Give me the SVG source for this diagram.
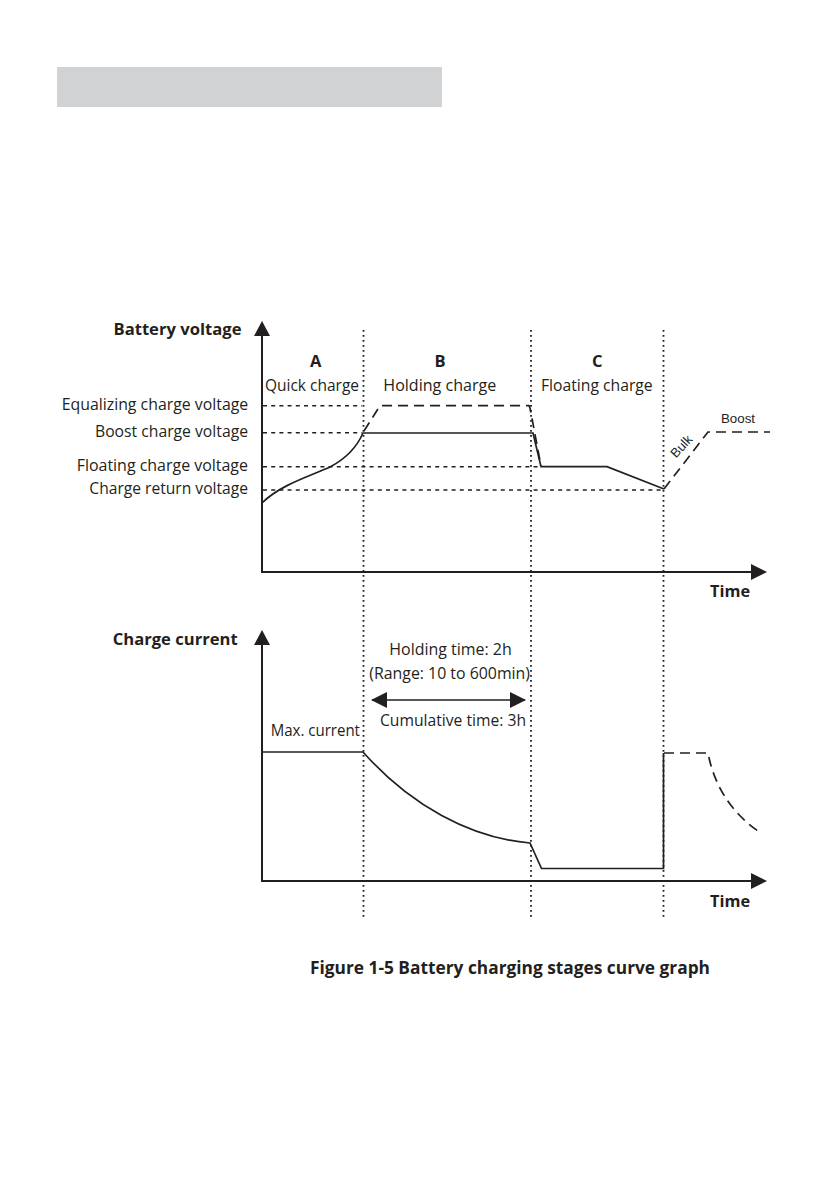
<svg xmlns="http://www.w3.org/2000/svg" width="840" height="1192" viewBox="0 0 840 1192">
<style>
.t{font-family:"Open Sans","Noto Sans","Liberation Sans",sans-serif;fill:#231f20;font-size:16px}
.b{font-family:"Open Sans","Noto Sans","Liberation Sans",sans-serif;fill:#231f20;font-weight:bold;font-size:16.5px}
.s{font-family:"Liberation Sans",Arial,sans-serif;fill:#231f20;font-size:13px}
.ax{stroke:#231f20;stroke-width:2;fill:none}
.cv{stroke:#231f20;stroke-width:1.7;fill:none}
.dash{stroke:#231f20;stroke-width:1.7;fill:none;stroke-dasharray:10 6}
.ref{stroke:#231f20;stroke-width:1.5;fill:none;stroke-dasharray:4 4.2}
.dot{stroke:#231f20;stroke-width:1.8;fill:none;stroke-dasharray:1.8 3.2}
.ah{fill:#231f20}
</style>
<defs>
<marker id="arr" viewBox="0 0 16 16" refX="15" refY="8" markerWidth="16" markerHeight="16" markerUnits="userSpaceOnUse" orient="auto-start-reverse">
<path d="M0,0 L16,8 L0,16 Z" fill="#231f20"/>
</marker>
</defs>

<rect id="header-bar" x="57" y="67" width="385" height="40" fill="#d1d2d4"/>

<g id="grid">
<line class="dot" x1="363.5" y1="330" x2="363.5" y2="918"/>
<line class="dot" x1="531" y1="330" x2="531" y2="918"/>
<line class="dot" x1="663.5" y1="330" x2="663.5" y2="918"/>
</g>

<g id="voltage-chart">
<g id="voltage-axes">
<polyline class="ax" points="262,330 262,572 758,572"/>
<path class="ah" d="M262,321 L270,336 L254,336 Z"/>
<path class="ah" d="M767,572 L751,564 L751,580 Z"/>
</g>
<g id="voltage-levels">
<line class="ref" x1="263" y1="405.7" x2="362" y2="405.7"/>
<line class="ref" x1="263" y1="432.7" x2="362" y2="432.7"/>
<line class="ref" x1="263" y1="466.7" x2="540" y2="466.7"/>
<line class="ref" x1="263" y1="490" x2="663" y2="490"/>
</g>
<g id="voltage-curves">
<path class="cv" d="M262,503 C280,485 310,476 330,467 C345,459 357,447 363,433 L533,433 L541,466.7 L607,466.7 L664,489"/>
<path class="dash" d="M364,431 L380,405.7 L529,405.7 L530,408 L541,466"/>
<path class="dash" d="M664,489 L708,432 L770,432"/>
</g>
</g>

<g id="voltage-labels">
<text class="b" x="241.5" y="335" text-anchor="end" textLength="128" lengthAdjust="spacingAndGlyphs">Battery voltage</text>
<text class="b" x="315.7" y="367.3" text-anchor="middle">A</text>
<text class="t" x="265" y="391" textLength="94" lengthAdjust="spacingAndGlyphs">Quick charge</text>
<text class="b" x="440" y="367.3" text-anchor="middle">B</text>
<text class="t" x="383.3" y="391" textLength="113" lengthAdjust="spacingAndGlyphs">Holding charge</text>
<text class="b" x="597.3" y="367.3" text-anchor="middle">C</text>
<text class="t" x="541" y="391" textLength="111.7" lengthAdjust="spacingAndGlyphs">Floating charge</text>
<text class="t" x="61.7" y="410" textLength="186.5" lengthAdjust="spacingAndGlyphs">Equalizing charge voltage</text>
<text class="t" x="95" y="437.3" textLength="153" lengthAdjust="spacingAndGlyphs">Boost charge voltage</text>
<text class="t" x="76.7" y="470.7" textLength="171.3" lengthAdjust="spacingAndGlyphs">Floating charge voltage</text>
<text class="t" x="89.3" y="494.3" textLength="158.7" lengthAdjust="spacingAndGlyphs">Charge return voltage</text>
<text class="s" x="721" y="423.3" textLength="34" lengthAdjust="spacingAndGlyphs">Boost</text>
<text class="s" x="0" y="4.5" text-anchor="middle" transform="translate(681.3,446.3) rotate(-47)">Bulk</text>
<text class="b" x="710" y="597.3" textLength="40" lengthAdjust="spacingAndGlyphs">Time</text>
</g>

<g id="current-chart">
<g id="current-axes">
<polyline class="ax" points="262,640 262,881 758,881"/>
<path class="ah" d="M262,630 L270,645 L254,645 Z"/>
<path class="ah" d="M767,881 L751,873 L751,889 Z"/>
</g>
<g id="current-curves">
<path class="cv" d="M262,752 L363,752 C410,805 470,838 530,843 L541.5,868.5 L663.5,868.5 L663.5,753"/>
<path class="dash" d="M664,753 L708,753 C715,790 735,815 758,831"/>
</g>
<g id="holding-arrow">
<line class="cv" x1="372" y1="700" x2="525" y2="700" marker-start="url(#arr)" marker-end="url(#arr)"/>
</g>
</g>

<g id="current-labels">
<text class="b" x="112.7" y="645" textLength="125" lengthAdjust="spacingAndGlyphs">Charge current</text>
<text class="t" x="389.3" y="655" textLength="122.4" lengthAdjust="spacingAndGlyphs">Holding time: 2h</text>
<text class="t" x="369.3" y="679.3" textLength="160.7" lengthAdjust="spacingAndGlyphs">(Range: 10 to 600min)</text>
<text class="t" x="380" y="726" textLength="146" lengthAdjust="spacingAndGlyphs">Cumulative time: 3h</text>
<text class="t" x="270.7" y="736" textLength="89.3" lengthAdjust="spacingAndGlyphs">Max. current</text>
<text class="b" x="710" y="907.3" textLength="40" lengthAdjust="spacingAndGlyphs">Time</text>
</g>

<text id="caption" class="b" x="310" y="973.5" style="font-size:17.5px" textLength="400" lengthAdjust="spacingAndGlyphs">Figure 1-5 Battery charging stages curve graph</text>
</svg>
